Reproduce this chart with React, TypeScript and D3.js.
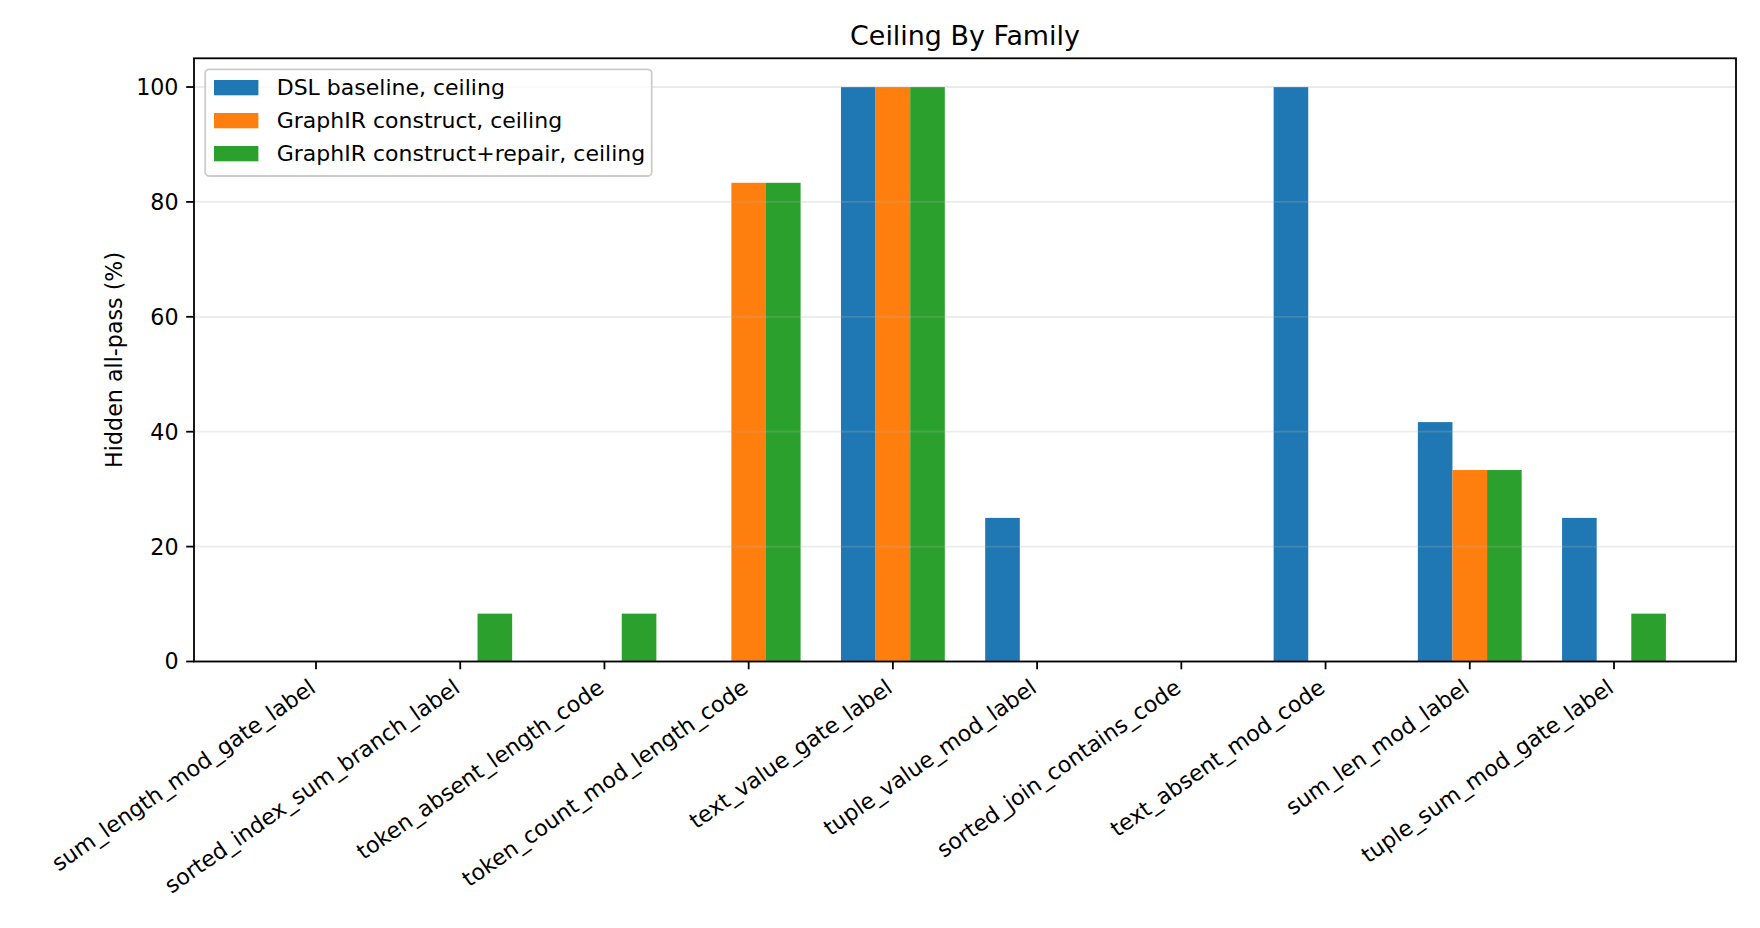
import React from "react";
import * as d3 from "d3";

const categories = [
  "sum_length_mod_gate_label",
  "sorted_index_sum_branch_label",
  "token_absent_length_code",
  "token_count_mod_length_code",
  "text_value_gate_label",
  "tuple_value_mod_label",
  "sorted_join_contains_code",
  "text_absent_mod_code",
  "sum_len_mod_label",
  "tuple_sum_mod_gate_label",
];

const seriesNames = [
  "DSL baseline, ceiling",
  "GraphIR construct, ceiling",
  "GraphIR construct+repair, ceiling",
];

const dslBaseline = [0, 0, 0, 0, 100, 25, 0, 100, 41.67, 25];
const graphirConstruct = [0, 0, 0, 83.33, 100, 0, 0, 0, 33.33, 0];
const graphirRepair = [0, 8.33, 8.33, 83.33, 100, 0, 0, 0, 33.33, 8.33];

const yTicks = [0, 20, 40, 60, 80, 100];

const colors = ["#1f77b4", "#ff7f0e", "#2ca02c"];

const W = 1760;
const H = 928;
const left = 194;
const right = 1736;
const top = 58.3;
const bottom = 661.5;
const FONT = "DejaVu Sans, sans-serif";
const FS = 22.2;

export default function App() {
  const series = [dslBaseline, graphirConstruct, graphirRepair];
  const barW = 0.24;
  const x = d3.scaleLinear().domain([-0.846, categories.length - 1 + 0.846]).range([left, right]);
  const y = d3.scaleLinear().domain([0, 105]).range([bottom, top]);
  const rot = 35;

  return (
    <svg
      width={W}
      height={H}
      style={{ position: "absolute", left: 0, top: 0, background: "#fff" }}
      fontFamily={FONT}
    >
      <rect x={0} y={0} width={W} height={H} fill="#fff" />
      {/* bars */}
      {series.map((vals, si) =>
        vals.map((v, ci) => {
          const cx = ci + (si - 1) * barW;
          const x0 = x(cx - barW / 2);
          const x1 = x(cx + barW / 2);
          return (
            <rect
              key={`b-${si}-${ci}`}
              x={x0}
              y={y(v)}
              width={x1 - x0}
              height={y(0) - y(v)}
              fill={colors[si]}
            />
          );
        })
      )}
      {/* grid on top */}
      {yTicks.map((t) => (
        <line
          key={`g-${t}`}
          x1={left}
          x2={right}
          y1={y(t)}
          y2={y(t)}
          stroke="#b0b0b0"
          strokeOpacity={0.25}
          strokeWidth={1.8}
        />
      ))}
      {/* y ticks */}
      {yTicks.map((t) => (
        <g key={`yt-${t}`}>
          <line x1={left - 7.8} x2={left} y1={y(t)} y2={y(t)} stroke="#000" strokeWidth={1.8} />
          <text x={178.5} y={y(t)} dy="0.36em" textAnchor="end" fontSize={FS} fill="#000">
            {t}
          </text>
        </g>
      ))}
      {/* x ticks */}
      {categories.map((c, i) => {
        const tx = x(i);
        const ax = tx + 1;
        const ay = bottom + 29.5;
        return (
          <g key={`xt-${i}`}>
            <line x1={tx} x2={tx} y1={bottom} y2={bottom + 7.8} stroke="#000" strokeWidth={1.8} />
            <text
              x={ax}
              y={ay}
              textAnchor="end"
              fontSize={FS}
              fill="#000"
              transform={`rotate(${-rot}, ${ax}, ${ay})`}
            >
              {c}
            </text>
          </g>
        );
      })}
      {/* frame */}
      <rect
        x={left}
        y={top}
        width={right - left}
        height={bottom - top}
        fill="none"
        stroke="#000"
        strokeWidth={1.8}
      />
      {/* title */}
      <text x={(left + right) / 2} y={45} textAnchor="middle" fontSize={26.9} fill="#000">
        Ceiling By Family
      </text>
      {/* y label */}
      <text
        x={122}
        y={(top + bottom) / 2}
        textAnchor="middle"
        fontSize={FS}
        fill="#000"
        transform={`rotate(-90, 122, ${(top + bottom) / 2})`}
      >
        Hidden all-pass (%)
      </text>
      {/* legend */}
      <g>
        <rect
          x={205.2}
          y={69.3}
          width={446.5}
          height={106.7}
          rx={4}
          ry={4}
          fill="#fff"
          fillOpacity={0.8}
          stroke="#cccccc"
          strokeWidth={1.8}
        />
        {seriesNames.map((n, i) => (
          <g key={`lg-${i}`}>
            <rect x={214} y={80 + i * 33} width={44.4} height={15.3} fill={colors[i]} />
            <text x={276.7} y={95 + i * 33} fontSize={22} fill="#000">
              {n}
            </text>
          </g>
        ))}
      </g>
    </svg>
  );
}
